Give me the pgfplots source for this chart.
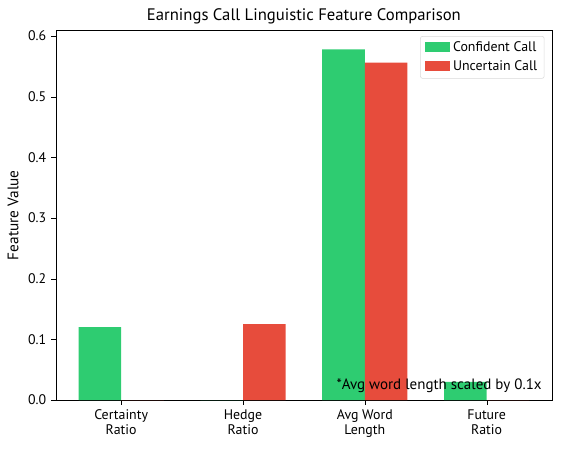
\documentclass[border=0pt]{standalone}
\usepackage{pgfplots}
\pgfplotsset{compat=1.18}
\usepackage{fontspec}
\setmainfont{PT Sans}
\definecolor{conf}{HTML}{2ECC71}
\definecolor{unc}{HTML}{E74C3C}
\begin{document}
\begin{tikzpicture}
\path[use as bounding box] (-40.3pt,-34.6pt) rectangle (364.3pt,288pt);
\begin{axis}[
  at={(0,0)}, anchor=south west,
  scale only axis,
  width=357pt, height=266pt,
  xmin=-0.535, xmax=3.535,
  ymin=0, ymax=0.609,
  xtick={0,1,2,3},
  xticklabels={{Certainty\\Ratio},{Hedge\\Ratio},{Avg Word\\Length},{Future\\Ratio}},
  xticklabel style={align=center, font=\fontsize{10}{11}\selectfont},
  ytick={0,0.1,...,0.6},
  yticklabel style={font=\fontsize{10}{11}\selectfont, /pgf/number format/fixed, /pgf/number format/precision=1, /pgf/number format/fixed zerofill},
  /pgf/number format/assume math mode=true,
  tick align=outside,
  tick style={black, major tick length=3.5pt},
  xtick pos=bottom, ytick pos=left,
  ylabel={Feature Value},
  ylabel style={font=\fontsize{11}{12}\selectfont},
  title={Earnings Call Linguistic Feature Comparison},
  title style={font=\fontsize{12}{13}\selectfont, yshift=-5pt},
  legend style={at={(0.985,0.985)}, anchor=north east, font=\fontsize{10}{12}\selectfont, draw=black!15, rounded corners=1.5pt, row sep=1pt},
  legend cell align=left,
  legend image code/.code={\fill[#1, sharp corners] (0cm,-0.11cm) rectangle (0.65cm,0.14cm);},
]
\addplot[fill=conf, draw=none, ybar, bar width=0.35, bar shift=-0.175] coordinates {(0,0.12) (1,0) (2,0.578) (3,0.030)};
\addlegendentry{Confident Call}
\addplot[fill=unc, draw=none, ybar, bar width=0.35, bar shift=0.175] coordinates {(0,0) (1,0.125) (2,0.556) (3,0)};
\addlegendentry{Uncertain Call}
\node[anchor=south east, font=\fontsize{10.8}{12}\selectfont, inner sep=0pt] at (rel axis cs:0.98,0.02) {*Avg word length scaled by 0.1x};
\end{axis}
\end{tikzpicture}
\end{document}
